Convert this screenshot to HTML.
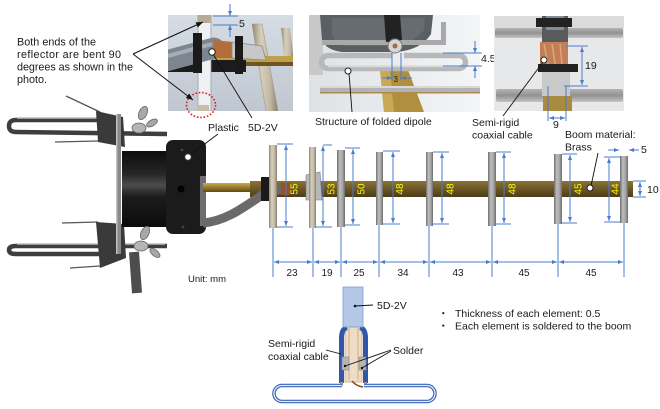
<!DOCTYPE html>
<html><head><meta charset="utf-8"><style>
html,body{margin:0;padding:0;background:#fff;width:660px;height:409px;overflow:hidden}
svg{display:block}
text{font-family:"Liberation Sans","Noto Sans CJK JP",sans-serif;fill:#1a1a1a;font-size:10.5px}
.y{fill:#ffff00;font-size:10px}
.d{font-size:10px}
.n{font-size:10.8px}
</style></head><body>
<svg width="660" height="409" viewBox="0 0 660 409" xmlns="http://www.w3.org/2000/svg">
<defs>
<marker id="ab" viewBox="0 0 10 8" refX="10" refY="4" markerWidth="5" markerHeight="4" orient="auto-start-reverse" markerUnits="userSpaceOnUse"><path d="M0,0L10,4L0,8z" fill="#4a7ccc"/></marker>
<marker id="ak" viewBox="0 0 10 8" refX="10" refY="4" markerWidth="7" markerHeight="5.6" orient="auto" markerUnits="userSpaceOnUse"><path d="M0,0L10,4L0,8z" fill="#111"/></marker>
<linearGradient id="gEl" x1="0" x2="1" y1="0" y2="0"><stop offset="0" stop-color="#6e6e6e"/><stop offset=".35" stop-color="#bdbdbd"/><stop offset=".7" stop-color="#a4a4a4"/><stop offset="1" stop-color="#6a6a6a"/></linearGradient>
<linearGradient id="gEl2" x1="0" x2="1" y1="0" y2="0"><stop offset="0" stop-color="#8f8676"/><stop offset=".35" stop-color="#d8cfbb"/><stop offset=".7" stop-color="#c2b9a5"/><stop offset="1" stop-color="#857c6b"/></linearGradient>
<linearGradient id="gBoom" x1="0" x2="0" y1="0" y2="1"><stop offset="0" stop-color="#8a7436"/><stop offset=".5" stop-color="#6b5627"/><stop offset="1" stop-color="#4c3c18"/></linearGradient>
<linearGradient id="gBrass" x1="0" x2="0" y1="0" y2="1"><stop offset="0" stop-color="#c8a84a"/><stop offset=".5" stop-color="#9a7b2c"/><stop offset="1" stop-color="#5e4a18"/></linearGradient>
<linearGradient id="gCyl" x1="0" x2="0" y1="0" y2="1"><stop offset="0" stop-color="#0d0d0d"/><stop offset=".3" stop-color="#262626"/><stop offset=".45" stop-color="#4d4d4d"/><stop offset=".6" stop-color="#1c1c1c"/><stop offset="1" stop-color="#0b0b0b"/></linearGradient>
<linearGradient id="gBg1" x1="0" x2="0" y1="0" y2="1"><stop offset="0" stop-color="#d5dce4"/><stop offset="1" stop-color="#c0c7d0"/></linearGradient>
<linearGradient id="gBg2" x1="0" x2="1" y1="0" y2="0"><stop offset="0" stop-color="#dfe2e5"/><stop offset="1" stop-color="#f3f5f7"/></linearGradient>
<linearGradient id="gBar3" x1="0" x2="0" y1="0" y2="1"><stop offset="0" stop-color="#b4b4b4"/><stop offset=".5" stop-color="#929292"/><stop offset="1" stop-color="#c4c4c4"/></linearGradient>
<clipPath id="c1"><rect x="168" y="15" width="125" height="96"/></clipPath>
<clipPath id="c2"><rect x="309" y="15" width="171" height="97"/></clipPath>
<clipPath id="c3"><rect x="494" y="16" width="130" height="95"/></clipPath>
</defs>

<text class="n" x="17" y="45.5" textLength="79" lengthAdjust="spacing">Both ends of the</text>
<text class="n" x="17" y="58" textLength="104" lengthAdjust="spacing">reflector are bent 90</text>
<text class="n" x="17" y="70.5" textLength="116" lengthAdjust="spacing">degrees as shown in the</text>
<text class="n" x="17" y="83">photo.</text>

<g clip-path="url(#c1)">
<rect x="168" y="15" width="125" height="96" fill="url(#gBg1)"/>
<polygon points="281,28 290,28 294,62 285,62" fill="url(#gEl2)"/>
<polygon points="252,24 262,24 278,111 266,111" fill="url(#gEl2)" stroke="#a59880" stroke-width="0.6"/>
<rect x="195" y="56" width="100" height="7" fill="#c0a046"/>
<rect x="195" y="62" width="100" height="4" fill="#6e5522"/>
<rect x="168" y="60" width="78" height="12" fill="#1c1c1c"/>
<rect x="198" y="15" width="13" height="96" fill="#eef0f2" stroke="#9aa0a6" stroke-width="0.8"/>
<rect x="198" y="15" width="13" height="8" fill="#b5ab98"/>
<rect x="197" y="105" width="12" height="6" fill="#c9bfa8"/>
<path d="M158,63 L214,48" stroke="#7d868e" stroke-width="21" stroke-linecap="round"/>
<path d="M168,56 L212,44" stroke="#a6aeb5" stroke-width="4"/>
<polygon points="214,40 233,42 233,58 214,58" fill="#b36e3c"/>
<polygon points="232,42 262,46 266,60 232,58" fill="#c8c8c8" stroke="#8c8c8c" stroke-width="0.8"/>
<rect x="193" y="33" width="9" height="40" fill="#1a1a1a"/>
<rect x="235" y="36" width="8" height="38" fill="#1a1a1a"/>
</g>
<ellipse cx="201" cy="105" rx="14.5" ry="12.5" fill="none" stroke="#e02020" stroke-width="1.6" stroke-dasharray="1.6,1.8"/>
<line x1="230" y1="4" x2="230" y2="16" stroke="#4a7ccc" stroke-width="1" marker-end="url(#ab)"/>
<line x1="213" y1="16" x2="238" y2="16" stroke="#4a7ccc" stroke-width="1"/>
<line x1="213" y1="25" x2="238" y2="25" stroke="#4a7ccc" stroke-width="1"/>
<line x1="230" y1="37" x2="230" y2="25" stroke="#4a7ccc" stroke-width="1" marker-end="url(#ab)"/>
<text x="239" y="27">5</text>
<line x1="133" y1="54" x2="203" y2="22" stroke="#111" stroke-width="1" marker-end="url(#ak)"/>
<line x1="133" y1="54" x2="193" y2="100" stroke="#111" stroke-width="1" marker-end="url(#ak)"/>
<line x1="213" y1="54" x2="252" y2="118" stroke="#111" stroke-width="0.9"/>
<circle cx="212" cy="52" r="3.2" fill="#fff" stroke="#222" stroke-width="1"/>
<text x="208" y="131">Plastic</text>
<text x="248" y="131">5D-2V</text>

<g clip-path="url(#c2)">
<rect x="309" y="15" width="171" height="97" fill="url(#gBg2)"/>
<rect x="309" y="15" width="14" height="60" fill="#c6c8ca"/>
<path d="M320,15 L433,15 L431,34 Q421,50 396,52 L342,52 Q326,50 322,40 Z" fill="#5a5f64"/>
<path d="M332,18 L425,18 L424,30 Q412,44 392,46 L345,46 Q334,42 332,34 Z" fill="#676c72"/>
<rect x="322" y="40" width="124" height="5" fill="#a9a9a9"/>
<rect x="441" y="22" width="5" height="23" fill="#a9a9a9"/>
<polygon points="380,70 408,70 424,112 384,112" fill="#b0903f"/>
<polygon points="380,70 390,70 394,112 384,112" fill="#c9a955"/>
<path d="M392,55.5 L328,55.5 A6.5,6.5 0 0 0 328,68.5 L459,68.5 A6.5,6.5 0 0 0 459,55.5 L404,55.5" fill="none" stroke="#b8b8b8" stroke-width="5.5"/>
<path d="M328,66.5 L459,66.5" stroke="#d8d8d8" stroke-width="1.5"/>
<rect x="320" y="86" width="160" height="7" fill="#b3b3b3"/>
<rect x="320" y="86" width="160" height="2" fill="#d8d8d8"/>
<rect x="320" y="92" width="160" height="1.5" fill="#b08a50"/>
<path d="M384,15 L400,15 L402,40 L386,42 Z" fill="#222"/>
<circle cx="395" cy="46" r="7" fill="#d6d6d6" stroke="#7a7a7a" stroke-width="1"/>
<circle cx="395" cy="46" r="2.5" fill="#a86a40"/>
</g>
<line x1="443" y1="53" x2="482" y2="53" stroke="#4a7ccc" stroke-width="1"/>
<line x1="443" y1="66" x2="482" y2="66" stroke="#4a7ccc" stroke-width="1"/>
<line x1="475" y1="41" x2="475" y2="53" stroke="#4a7ccc" stroke-width="1" marker-end="url(#ab)"/>
<line x1="475" y1="78" x2="475" y2="66" stroke="#4a7ccc" stroke-width="1" marker-end="url(#ab)"/>
<text x="481" y="62">4.5</text>
<line x1="392" y1="53" x2="392" y2="80" stroke="#4a7ccc" stroke-width="1"/>
<line x1="401" y1="53" x2="401" y2="80" stroke="#4a7ccc" stroke-width="1"/>
<line x1="382" y1="78" x2="392" y2="78" stroke="#4a7ccc" stroke-width="1" marker-end="url(#ab)"/>
<line x1="412" y1="78" x2="401" y2="78" stroke="#4a7ccc" stroke-width="1" marker-end="url(#ab)"/>
<text x="393.5" y="82" style="font-size:8px">3</text>
<line x1="349" y1="73" x2="352" y2="112" stroke="#111" stroke-width="0.9"/>
<circle cx="348" cy="71" r="3" fill="#fff" stroke="#222" stroke-width="1"/>
<text x="315" y="125">Structure of folded dipole</text>

<g clip-path="url(#c3)">
<rect x="494" y="16" width="130" height="95" fill="#e7e8ea"/>
<rect x="494" y="16" width="130" height="12" fill="#d9dbdd"/>
<rect x="495" y="28" width="128" height="10" rx="2" fill="url(#gBar3)"/>
<rect x="496" y="89" width="127" height="13" rx="2" fill="url(#gBar3)"/>
<rect x="542" y="16" width="26" height="30" fill="#5a5a5a"/>
<rect x="546" y="16" width="18" height="14" fill="#7f8d9b"/>
<rect x="536" y="18" width="36" height="9" fill="#222"/>
<rect x="540" y="42" width="28" height="25" fill="#c27f55"/>
<path d="M544,44 L548,64 M552,44 L555,64 M560,44 L562,64" stroke="#e0a47c" stroke-width="1.5"/>
<rect x="542" y="70" width="28" height="26" fill="#c9c9c9"/>
<rect x="538" y="64" width="40" height="8" fill="#222"/>
<rect x="543" y="96" width="29" height="15" fill="#a88a40"/>
</g>
<line x1="566" y1="46" x2="588" y2="46" stroke="#4a7ccc" stroke-width="1"/>
<line x1="564" y1="86" x2="588" y2="86" stroke="#4a7ccc" stroke-width="1"/>
<line x1="582" y1="47" x2="582" y2="85" stroke="#4a7ccc" stroke-width="1" marker-start="url(#ab)" marker-end="url(#ab)"/>
<text x="585" y="69">19</text>
<line x1="548" y1="86" x2="548" y2="121" stroke="#4a7ccc" stroke-width="1"/>
<line x1="566" y1="86" x2="566" y2="121" stroke="#4a7ccc" stroke-width="1"/>
<line x1="549" y1="118" x2="565" y2="118" stroke="#4a7ccc" stroke-width="1" marker-start="url(#ab)" marker-end="url(#ab)"/>
<text x="553" y="128">9</text>
<line x1="543" y1="62" x2="503" y2="116" stroke="#111" stroke-width="0.9"/>
<circle cx="544" cy="60" r="3" fill="#fff" stroke="#222" stroke-width="1"/>
<text x="472" y="126">Semi-rigid</text>
<text x="472" y="138.5">coaxial cable</text>
<text x="565" y="138">Boom material:</text>
<text x="565" y="150.5">Brass</text>

<path d="M102,120 L16,120 Q9,120 9,126 Q9,132 16,132 L167,134" fill="none" stroke="#3e3e3e" stroke-width="4.5"/>
<path d="M100,118.5 L17,118.5" stroke="#9a9a9a" stroke-width="1"/>
<path d="M167,246 L16,246 Q9,246 9,250 Q9,254 16,254 L102,254" fill="none" stroke="#3e3e3e" stroke-width="4.5"/>
<path d="M165,244.5 L17,244.5" stroke="#9a9a9a" stroke-width="1"/>
<line x1="66" y1="96" x2="100" y2="112" stroke="#555" stroke-width="1.3"/>
<line x1="55" y1="142" x2="98" y2="141" stroke="#555" stroke-width="1.3"/>
<line x1="62" y1="223" x2="98" y2="222" stroke="#555" stroke-width="1.3"/>
<line x1="70" y1="268" x2="100" y2="266" stroke="#555" stroke-width="1.3"/>
<polygon points="96,111 123,117 125,147 98,142" fill="#3a3a3a"/>
<polygon points="96,222 124,224 126,258 100,268" fill="#3a3a3a"/>
<rect x="116" y="114" width="5" height="140" fill="#8a8a8a"/>
<rect x="116" y="114" width="1.5" height="140" fill="#c0c0c0"/>
<path d="M134,252 L137,293" stroke="#4d4d4d" stroke-width="10"/>
<rect x="122" y="151" width="50" height="76" fill="url(#gCyl)"/>
<rect x="166" y="140" width="40" height="94" rx="7" fill="#1b1b1b"/>
<rect x="200" y="176" width="6" height="50" fill="#6e6e6e"/>
<circle cx="181" cy="189" r="3.5" fill="#000"/>
<circle cx="182" cy="150" r="1.4" fill="#444"/>
<circle cx="183" cy="227" r="1.4" fill="#444"/>
<ellipse cx="139" cy="128" rx="7" ry="5" fill="#b5b5b5" stroke="#666" stroke-width="0.8"/>
<ellipse cx="143" cy="113" rx="4" ry="7" transform="rotate(25 143 113)" fill="#a8a8a8" stroke="#666" stroke-width="0.8"/>
<ellipse cx="152" cy="123" rx="3" ry="6" transform="rotate(60 152 123)" fill="#a8a8a8" stroke="#666" stroke-width="0.8"/>
<ellipse cx="141" cy="246" rx="7" ry="5" fill="#b5b5b5" stroke="#666" stroke-width="0.8"/>
<ellipse cx="145" cy="233" rx="4" ry="7" transform="rotate(25 145 233)" fill="#a8a8a8" stroke="#666" stroke-width="0.8"/>
<ellipse cx="155" cy="253" rx="3" ry="6" transform="rotate(-50 155 253)" fill="#a8a8a8" stroke="#666" stroke-width="0.8"/>
<rect x="203" y="183" width="54" height="9" fill="url(#gBrass)"/>
<line x1="190" y1="155" x2="218" y2="134" stroke="#111" stroke-width="0.9"/>
<circle cx="188" cy="157" r="3.3" fill="#fff" stroke="#333" stroke-width="1"/>
<text x="188" y="282" style="font-size:9.5px">Unit: mm</text>

<rect x="250" y="181" width="383" height="16" fill="url(#gBoom)"/>
<path d="M203,223 C228,221 248,204 268,191 L288,189" fill="none" stroke="#6a6a6a" stroke-width="9"/>
<rect x="261" y="177" width="9" height="24" fill="#1a1a1a"/>
<rect x="281" y="183" width="9" height="12" fill="#9a4f28"/>
<polygon points="306,175 320,172 322,200 306,200" fill="#b8b8b8" stroke="#777" stroke-width="0.6"/>

<rect x="269" y="145" width="8" height="83" fill="url(#gEl2)"/>
<rect x="309" y="147" width="7" height="81" fill="url(#gEl2)"/>
<rect x="337" y="150" width="8" height="77" fill="url(#gEl)"/>
<rect x="376" y="152" width="7" height="73" fill="url(#gEl)"/>
<rect x="426" y="152" width="7" height="74" fill="url(#gEl)"/>
<rect x="488" y="152" width="8" height="74" fill="url(#gEl)"/>
<rect x="554" y="154" width="8" height="70" fill="url(#gEl)"/>
<rect x="620" y="156" width="8" height="67" fill="url(#gEl)"/>

<text class="y" transform="translate(297.5,189) rotate(-90)" text-anchor="middle">55</text>
<text class="y" transform="translate(334.5,189) rotate(-90)" text-anchor="middle">53</text>
<text class="y" transform="translate(364.5,189) rotate(-90)" text-anchor="middle">50</text>
<text class="y" transform="translate(403,189) rotate(-90)" text-anchor="middle">48</text>
<text class="y" transform="translate(453.5,189) rotate(-90)" text-anchor="middle">48</text>
<text class="y" transform="translate(515.5,189) rotate(-90)" text-anchor="middle">48</text>
<text class="y" transform="translate(581.5,189) rotate(-90)" text-anchor="middle">45</text>
<text class="y" transform="translate(618.5,189) rotate(-90)" text-anchor="middle">44</text>

<g stroke="#4a7ccc" stroke-width="1" fill="none">
<path d="M277,144H293M277,227H293M323,145H332M316,227H332M345,148H360M345,225H360M383,151H400M383,224H400M433,152H449M433,224H449M496,152H511M496,224H511M562,154H577M562,223H577M604,157H620M604,222H620"/>
</g>
<g stroke="#4a7ccc" stroke-width="1">
<line x1="286" y1="145" x2="286" y2="226" marker-start="url(#ab)" marker-end="url(#ab)"/>
<line x1="323" y1="146" x2="323" y2="226" marker-start="url(#ab)" marker-end="url(#ab)"/>
<line x1="353" y1="149" x2="353" y2="224" marker-start="url(#ab)" marker-end="url(#ab)"/>
<line x1="393" y1="152" x2="393" y2="223" marker-start="url(#ab)" marker-end="url(#ab)"/>
<line x1="442" y1="153" x2="442" y2="223" marker-start="url(#ab)" marker-end="url(#ab)"/>
<line x1="504" y1="153" x2="504" y2="223" marker-start="url(#ab)" marker-end="url(#ab)"/>
<line x1="570" y1="155" x2="570" y2="222" marker-start="url(#ab)" marker-end="url(#ab)"/>
<line x1="609" y1="158" x2="609" y2="221" marker-start="url(#ab)" marker-end="url(#ab)"/>
<path d="M273,228V277M313,228V277M341,227V277M379,225V277M429,226V277M492,226V277M558,224V277M624,223V277" fill="none"/>
<line x1="274" y1="262" x2="312" y2="262" marker-start="url(#ab)" marker-end="url(#ab)"/>
<line x1="314" y1="262" x2="340" y2="262" marker-start="url(#ab)" marker-end="url(#ab)"/>
<line x1="342" y1="262" x2="378" y2="262" marker-start="url(#ab)" marker-end="url(#ab)"/>
<line x1="380" y1="262" x2="428" y2="262" marker-start="url(#ab)" marker-end="url(#ab)"/>
<line x1="430" y1="262" x2="491" y2="262" marker-start="url(#ab)" marker-end="url(#ab)"/>
<line x1="493" y1="262" x2="557" y2="262" marker-start="url(#ab)" marker-end="url(#ab)"/>
<line x1="559" y1="262" x2="623" y2="262" marker-start="url(#ab)" marker-end="url(#ab)"/>
<line x1="608" y1="150" x2="619" y2="150" marker-end="url(#ab)"/>
<line x1="639" y1="150" x2="629" y2="150" marker-end="url(#ab)"/>
<path d="M633,181H646M633,197H646" fill="none"/>
<line x1="640" y1="182" x2="640" y2="196" marker-start="url(#ab)" marker-end="url(#ab)"/>
</g>
<text x="641" y="153">5</text>
<text x="647" y="193">10</text>
<text class="d" x="292" y="276" text-anchor="middle">23</text>
<text class="d" x="327" y="276" text-anchor="middle">19</text>
<text class="d" x="359" y="276" text-anchor="middle">25</text>
<text class="d" x="403" y="276" text-anchor="middle">34</text>
<text class="d" x="458" y="276" text-anchor="middle">43</text>
<text class="d" x="524" y="276" text-anchor="middle">45</text>
<text class="d" x="591" y="276" text-anchor="middle">45</text>
<line x1="591" y1="186" x2="598" y2="153" stroke="#111" stroke-width="0.9"/>
<circle cx="590" cy="188" r="3" fill="#fff" stroke="#222" stroke-width="1"/>

<rect x="345" y="327" width="17" height="55" fill="#efdcc4" stroke="#c9a98a" stroke-width="0.8"/>
<line x1="349" y1="328" x2="349" y2="380" stroke="#c9a27c" stroke-width="0.8"/>
<line x1="358" y1="328" x2="358" y2="380" stroke="#c9a27c" stroke-width="0.8"/>
<path d="M341.5,383 L341.5,338 Q341.5,329 347,327.5" fill="none" stroke="#3355aa" stroke-width="5"/>
<path d="M365.5,383 L365.5,338 Q365.5,329 360,327.5" fill="none" stroke="#3355aa" stroke-width="5"/>
<rect x="342" y="357" width="7" height="13" fill="#b5b5b5" stroke="#888" stroke-width="0.6"/>
<rect x="359" y="357" width="7" height="13" fill="#b5b5b5" stroke="#888" stroke-width="0.6"/>
<rect x="343" y="287" width="20" height="40" fill="#b4c7e7" stroke="#7f9fcf" stroke-width="0.8"/>
<path d="M352,381 Q356,386 363,387" fill="none" stroke="#8a4a1e" stroke-width="1.5"/>
<rect x="340" y="382" width="3" height="4" fill="#999"/>
<rect x="364" y="382" width="3" height="4" fill="#999"/>
<path d="M342,385.5 L282,385.5 A8,8 0 0 0 282,401.5 L427,401.5 A8,8 0 0 0 427,385.5 L364,385.5" fill="none" stroke="#3a64b8" stroke-width="3.6"/>
<path d="M342,385.5 L282,385.5 A8,8 0 0 0 282,401.5 L427,401.5 A8,8 0 0 0 427,385.5 L364,385.5" fill="none" stroke="#e4ecf8" stroke-width="1.3"/>
<line x1="355" y1="306" x2="373" y2="305" stroke="#111" stroke-width="0.9"/>
<circle cx="355" cy="306" r="1.3" fill="#111"/>
<line x1="326" y1="350" x2="341" y2="354" stroke="#111" stroke-width="0.9"/>
<line x1="391" y1="350" x2="345" y2="366" stroke="#111" stroke-width="0.9"/>
<line x1="391" y1="351" x2="362" y2="368" stroke="#111" stroke-width="0.9"/>
<circle cx="345" cy="366" r="1.2" fill="#111"/>
<circle cx="362" cy="368" r="1.2" fill="#111"/>
<text x="377" y="309">5D-2V</text>
<text x="268" y="347">Semi-rigid</text>
<text x="268" y="360">coaxial cable</text>
<text x="393" y="354">Solder</text>

<text x="438" y="317">・</text>
<text x="455" y="317">Thickness of each element: 0.5</text>
<text x="438" y="329.5">・</text>
<text x="455" y="329.5">Each element is soldered to the boom</text>
</svg>
</body></html>
